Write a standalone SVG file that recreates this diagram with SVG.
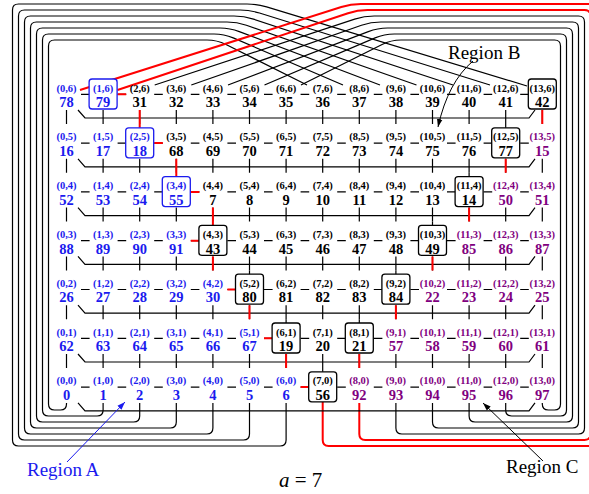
<svg xmlns="http://www.w3.org/2000/svg" width="589" height="494" viewBox="0 0 589 494">
<style>
.l{font:bold 10.5px "Liberation Serif",serif;text-anchor:middle}
.n{font:bold 14.5px "Liberation Serif",serif;text-anchor:middle}
.B{fill:#1a1aee}.P{fill:#800080}.K{fill:#000}
.bx{fill:#fff;stroke:#000;stroke-width:1.3}
.bb{stroke:#1a1aee}
.w{fill:none;stroke:#000;stroke-width:1.2}
.r{fill:none;stroke:#f00;stroke-width:2}
.t{font:19px "Liberation Serif",serif}
</style>
<defs>
<marker id="ak" viewBox="0 0 10 10" refX="10" refY="5" markerWidth="8" markerHeight="8" markerUnits="userSpaceOnUse" orient="auto"><path d="M0,1.5L10,5L0,8.5z" fill="#000"/></marker>
<marker id="ab" viewBox="0 0 10 10" refX="10" refY="5" markerWidth="8" markerHeight="8" markerUnits="userSpaceOnUse" orient="auto"><path d="M0,1.5L10,5L0,8.5z" fill="#1a1aee"/></marker>
</defs>
<g id="connectors">
<!-- outer loops left -->
<path class="w" d="M66.5,403V404Q66.5,410 60.5,410H54.5Q48.5,410 48.5,404V46Q48.5,40 54.5,40H207Q217,40 226,44.5L307,85"/>
<path class="w" d="M103.1,403V410Q103.1,416 97.1,416H48.5Q42.5,416 42.5,410V40Q42.5,34 48.5,34H214Q224,34 233.2,37.9L343,85"/>
<path class="w" d="M139.7,403V416Q139.7,422 133.7,422H42.5Q36.5,422 36.5,416V34Q36.5,28 42.5,28H220Q230,28 239.3,31.6L380,85"/>
<path class="w" d="M176.3,403V422Q176.3,428 170.3,428H36.5Q30.5,428 30.5,422V28Q30.5,22 36.5,22H227Q237,22 246.4,25.3L416.5,85"/>
<path class="w" d="M212.9,403V428Q212.9,434 206.9,434H30.5Q24.5,434 24.5,428V22Q24.5,16 30.5,16H234Q244,16 253.5,19.1L453,85"/>
<path class="w" d="M249.5,403V434Q249.5,440 243.5,440H24.5Q18.5,440 18.5,434V16Q18.5,10 24.5,10H240Q250,10 259.5,13L490,85"/>
<path class="w" d="M286.1,403V440Q286.1,446 280.1,446H18.5Q12.5,446 12.5,440V10Q12.5,4 18.5,4H247Q257,4 266.6,6.9L527,86"/>
<!-- outer loops right -->
<path class="w" d="M542.3,403V404Q542.3,410 548.3,410H554.5Q560.5,410 560.5,404V46Q560.5,40 554.5,40H401Q391,40 382.1,44.5L301,85"/>
<path class="w" d="M505.7,403V410Q505.7,416 511.7,416H560.5Q566.5,416 566.5,410V40Q566.5,34 560.5,34H394.3Q384.3,34 375.1,37.9L264.5,85"/>
<path class="w" d="M469.1,403V416Q469.1,422 475.1,422H566.5Q572.5,422 572.5,416V34Q572.5,28 566.5,28H387.6Q377.6,28 368.3,31.6L228,85"/>
<path class="w" d="M432.5,403V422Q432.5,428 438.5,428H572.5Q578.5,428 578.5,422V28Q578.5,22 572.5,22H380.9Q370.9,22 361.5,25.3L191.3,85"/>
<path class="w" d="M395.9,403V428Q395.9,434 401.9,434H578.5Q584.5,434 584.5,428V22Q584.5,16 578.5,16H374.2Q364.2,16 354.7,19.1L154.7,85"/>
<path class="r" d="M359.3,403V434Q359.3,440 365.3,440H584.5Q590.5,440 590.5,434V16Q590.5,10 584.5,10H367.5Q357.5,10 348,13.2L117.5,90"/>
<path class="r" d="M322.7,402V440Q322.7,446 328.7,446H590.5Q596.5,446 596.5,440V10Q596.5,4 590.5,4H360.8Q350.8,4 341.3,7L80,90"/>
<!-- row wraps -->
<path class="w" d="M78,110L85,118H529L535,110M78,158.8L85,166.8H529L535,158.8M78,207.6L85,215.6H529L535,207.6M78,256.4L85,264.4H529L535,256.4M78,305.2L85,313.2H529L535,305.2M78,354L85,362H529L535,354M78,402.8L85,410.8H529L535,402.8"/>
<!-- horizontal dashes -->
<path class="w" d="M81,94.3h8.6m28,0h8.6m28,0h8.6m28,0h8.6m28,0h8.6m28,0h8.6m28,0h8.6m28,0h8.6m28,0h8.6m28,0h8.6m28,0h8.6m28,0h8.6m28,0h8.6"/>
<path class="w" d="M81,143.1h8.6m28,0h8.6m28,0h8.6m28,0h8.6m28,0h8.6m28,0h8.6m28,0h8.6m28,0h8.6m28,0h8.6m28,0h8.6m28,0h8.6m28,0h8.6m28,0h8.6"/>
<path class="w" d="M81,191.9h8.6m28,0h8.6m28,0h8.6m28,0h8.6m28,0h8.6m28,0h8.6m28,0h8.6m28,0h8.6m28,0h8.6m28,0h8.6m28,0h8.6m28,0h8.6m28,0h8.6"/>
<path class="w" d="M81,240.7h8.6m28,0h8.6m28,0h8.6m28,0h8.6m28,0h8.6m28,0h8.6m28,0h8.6m28,0h8.6m28,0h8.6m28,0h8.6m28,0h8.6m28,0h8.6m28,0h8.6"/>
<path class="w" d="M81,289.5h8.6m28,0h8.6m28,0h8.6m28,0h8.6m28,0h8.6m28,0h8.6m28,0h8.6m28,0h8.6m28,0h8.6m28,0h8.6m28,0h8.6m28,0h8.6m28,0h8.6"/>
<path class="w" d="M81,338.3h8.6m28,0h8.6m28,0h8.6m28,0h8.6m28,0h8.6m28,0h8.6m28,0h8.6m28,0h8.6m28,0h8.6m28,0h8.6m28,0h8.6m28,0h8.6m28,0h8.6"/>
<path class="w" d="M81,387.1h8.6m28,0h8.6m28,0h8.6m28,0h8.6m28,0h8.6m28,0h8.6m28,0h8.6m28,0h8.6m28,0h8.6m28,0h8.6m28,0h8.6m28,0h8.6m28,0h8.6"/>
<!-- vertical links -->
<path class="w" d="M66.5,110v14m36.6,-14v14m36.6,-14v14m36.6,-14v14m36.6,-14v14m36.6,-14v14m36.6,-14v14m36.6,-14v14m36.6,-14v14m36.6,-14v14m36.6,-14v14m36.6,-14v14m36.6,-14v14m36.6,-14v14"/>
<path class="w" d="M66.5,158.8v14m36.6,-14v14m36.6,-14v14m36.6,-14v14m36.6,-14v14m36.6,-14v14m36.6,-14v14m36.6,-14v14m36.6,-14v14m36.6,-14v14m36.6,-14v14m36.6,-14v14m36.6,-14v14m36.6,-14v14"/>
<path class="w" d="M66.5,207.6v14m36.6,-14v14m36.6,-14v14m36.6,-14v14m36.6,-14v14m36.6,-14v14m36.6,-14v14m36.6,-14v14m36.6,-14v14m36.6,-14v14m36.6,-14v14m36.6,-14v14m36.6,-14v14m36.6,-14v14"/>
<path class="w" d="M66.5,256.4v14m36.6,-14v14m36.6,-14v14m36.6,-14v14m36.6,-14v14m36.6,-14v14m36.6,-14v14m36.6,-14v14m36.6,-14v14m36.6,-14v14m36.6,-14v14m36.6,-14v14m36.6,-14v14m36.6,-14v14"/>
<path class="w" d="M66.5,305.2v14m36.6,-14v14m36.6,-14v14m36.6,-14v14m36.6,-14v14m36.6,-14v14m36.6,-14v14m36.6,-14v14m36.6,-14v14m36.6,-14v14m36.6,-14v14m36.6,-14v14m36.6,-14v14m36.6,-14v14"/>
<path class="w" d="M66.5,354v14m36.6,-14v14m36.6,-14v14m36.6,-14v14m36.6,-14v14m36.6,-14v14m36.6,-14v14m36.6,-14v14m36.6,-14v14m36.6,-14v14m36.6,-14v14m36.6,-14v14m36.6,-14v14m36.6,-14v14"/>
<path class="w" d="M505.7,124v4M469.1,172.8v4M432.5,221.6v4M395.9,270.4v4M359.3,319.2v4M322.7,368v4M249.5,270.4v4M286.1,319.2v4"/>
<!-- red path -->
<path class="r" d="M117.6,94.3h8.6M154.2,143.1h8.6M190.8,191.9h8.6M190.8,240.7h8.6M227.4,289.5h8.6M264,338.3h8.6M300.6,387.1h8.6"/>
<path class="r" d="M139.7,110V128M176.3,158.8V176.8M212.9,207.6V225.6M212.9,256.4V270.4M249.5,305.2V319.2M286.1,354V368M359.3,354V368M395.9,305.2V319.2M432.5,256.4V270.4M469.1,207.6V221.6M505.7,158.8V172.8M542.3,110V124"/>
</g>
<!-- row 6 -->
<g id="n0-6" class="B" transform="translate(66.5,0)"><text class="l" y="91.5">(0,6)</text><text class="n" y="107.3">78</text></g>
<g id="n1-6" class="B" transform="translate(103.1,0)"><rect class="bx bb" x="-14" y="79" width="28" height="30" rx="3"/><text class="l" y="91.5">(1,6)</text><text class="n" y="107.3">79</text></g>
<g id="n2-6" class="K" transform="translate(139.7,0)"><text class="l" y="91.5">(2,6)</text><text class="n" y="107.3">31</text></g>
<g id="n3-6" class="K" transform="translate(176.3,0)"><text class="l" y="91.5">(3,6)</text><text class="n" y="107.3">32</text></g>
<g id="n4-6" class="K" transform="translate(212.9,0)"><text class="l" y="91.5">(4,6)</text><text class="n" y="107.3">33</text></g>
<g id="n5-6" class="K" transform="translate(249.5,0)"><text class="l" y="91.5">(5,6)</text><text class="n" y="107.3">34</text></g>
<g id="n6-6" class="K" transform="translate(286.1,0)"><text class="l" y="91.5">(6,6)</text><text class="n" y="107.3">35</text></g>
<g id="n7-6" class="K" transform="translate(322.7,0)"><text class="l" y="91.5">(7,6)</text><text class="n" y="107.3">36</text></g>
<g id="n8-6" class="K" transform="translate(359.3,0)"><text class="l" y="91.5">(8,6)</text><text class="n" y="107.3">37</text></g>
<g id="n9-6" class="K" transform="translate(395.9,0)"><text class="l" y="91.5">(9,6)</text><text class="n" y="107.3">38</text></g>
<g id="n10-6" class="K" transform="translate(432.5,0)"><text class="l" y="91.5">(10,6)</text><text class="n" y="107.3">39</text></g>
<g id="n11-6" class="K" transform="translate(469.1,0)"><text class="l" y="91.5">(11,6)</text><text class="n" y="107.3">40</text></g>
<g id="n12-6" class="K" transform="translate(505.7,0)"><text class="l" y="91.5">(12,6)</text><text class="n" y="107.3">41</text></g>
<g id="n13-6" class="K" transform="translate(542.3,0)"><rect class="bx" x="-14" y="79" width="28" height="30" rx="3"/><text class="l" y="91.5">(13,6)</text><text class="n" y="107.3">42</text></g>
<!-- row 5 -->
<g id="n0-5" class="B" transform="translate(66.5,48.8)"><text class="l" y="91.5">(0,5)</text><text class="n" y="107.3">16</text></g>
<g id="n1-5" class="B" transform="translate(103.1,48.8)"><text class="l" y="91.5">(1,5)</text><text class="n" y="107.3">17</text></g>
<g id="n2-5" class="B" transform="translate(139.7,48.8)"><rect class="bx bb" x="-14" y="79" width="28" height="30" rx="3"/><text class="l" y="91.5">(2,5)</text><text class="n" y="107.3">18</text></g>
<g id="n3-5" class="K" transform="translate(176.3,48.8)"><text class="l" y="91.5">(3,5)</text><text class="n" y="107.3">68</text></g>
<g id="n4-5" class="K" transform="translate(212.9,48.8)"><text class="l" y="91.5">(4,5)</text><text class="n" y="107.3">69</text></g>
<g id="n5-5" class="K" transform="translate(249.5,48.8)"><text class="l" y="91.5">(5,5)</text><text class="n" y="107.3">70</text></g>
<g id="n6-5" class="K" transform="translate(286.1,48.8)"><text class="l" y="91.5">(6,5)</text><text class="n" y="107.3">71</text></g>
<g id="n7-5" class="K" transform="translate(322.7,48.8)"><text class="l" y="91.5">(7,5)</text><text class="n" y="107.3">72</text></g>
<g id="n8-5" class="K" transform="translate(359.3,48.8)"><text class="l" y="91.5">(8,5)</text><text class="n" y="107.3">73</text></g>
<g id="n9-5" class="K" transform="translate(395.9,48.8)"><text class="l" y="91.5">(9,5)</text><text class="n" y="107.3">74</text></g>
<g id="n10-5" class="K" transform="translate(432.5,48.8)"><text class="l" y="91.5">(10,5)</text><text class="n" y="107.3">75</text></g>
<g id="n11-5" class="K" transform="translate(469.1,48.8)"><text class="l" y="91.5">(11,5)</text><text class="n" y="107.3">76</text></g>
<g id="n12-5" class="K" transform="translate(505.7,48.8)"><rect class="bx" x="-14" y="79" width="28" height="30" rx="3"/><text class="l" y="91.5">(12,5)</text><text class="n" y="107.3">77</text></g>
<g id="n13-5" class="P" transform="translate(542.3,48.8)"><text class="l" y="91.5">(13,5)</text><text class="n" y="107.3">15</text></g>
<!-- row 4 -->
<g id="n0-4" class="B" transform="translate(66.5,97.6)"><text class="l" y="91.5">(0,4)</text><text class="n" y="107.3">52</text></g>
<g id="n1-4" class="B" transform="translate(103.1,97.6)"><text class="l" y="91.5">(1,4)</text><text class="n" y="107.3">53</text></g>
<g id="n2-4" class="B" transform="translate(139.7,97.6)"><text class="l" y="91.5">(2,4)</text><text class="n" y="107.3">54</text></g>
<g id="n3-4" class="B" transform="translate(176.3,97.6)"><rect class="bx bb" x="-14" y="79" width="28" height="30" rx="3"/><text class="l" y="91.5">(3,4)</text><text class="n" y="107.3">55</text></g>
<g id="n4-4" class="K" transform="translate(212.9,97.6)"><text class="l" y="91.5">(4,4)</text><text class="n" y="107.3">7</text></g>
<g id="n5-4" class="K" transform="translate(249.5,97.6)"><text class="l" y="91.5">(5,4)</text><text class="n" y="107.3">8</text></g>
<g id="n6-4" class="K" transform="translate(286.1,97.6)"><text class="l" y="91.5">(6,4)</text><text class="n" y="107.3">9</text></g>
<g id="n7-4" class="K" transform="translate(322.7,97.6)"><text class="l" y="91.5">(7,4)</text><text class="n" y="107.3">10</text></g>
<g id="n8-4" class="K" transform="translate(359.3,97.6)"><text class="l" y="91.5">(8,4)</text><text class="n" y="107.3">11</text></g>
<g id="n9-4" class="K" transform="translate(395.9,97.6)"><text class="l" y="91.5">(9,4)</text><text class="n" y="107.3">12</text></g>
<g id="n10-4" class="K" transform="translate(432.5,97.6)"><text class="l" y="91.5">(10,4)</text><text class="n" y="107.3">13</text></g>
<g id="n11-4" class="K" transform="translate(469.1,97.6)"><rect class="bx" x="-14" y="79" width="28" height="30" rx="3"/><text class="l" y="91.5">(11,4)</text><text class="n" y="107.3">14</text></g>
<g id="n12-4" class="P" transform="translate(505.7,97.6)"><text class="l" y="91.5">(12,4)</text><text class="n" y="107.3">50</text></g>
<g id="n13-4" class="P" transform="translate(542.3,97.6)"><text class="l" y="91.5">(13,4)</text><text class="n" y="107.3">51</text></g>
<!-- row 3 -->
<g id="n0-3" class="B" transform="translate(66.5,146.4)"><text class="l" y="91.5">(0,3)</text><text class="n" y="107.3">88</text></g>
<g id="n1-3" class="B" transform="translate(103.1,146.4)"><text class="l" y="91.5">(1,3)</text><text class="n" y="107.3">89</text></g>
<g id="n2-3" class="B" transform="translate(139.7,146.4)"><text class="l" y="91.5">(2,3)</text><text class="n" y="107.3">90</text></g>
<g id="n3-3" class="B" transform="translate(176.3,146.4)"><text class="l" y="91.5">(3,3)</text><text class="n" y="107.3">91</text></g>
<g id="n4-3" class="K" transform="translate(212.9,146.4)"><rect class="bx" x="-14" y="79" width="28" height="30" rx="3"/><text class="l" y="91.5">(4,3)</text><text class="n" y="107.3">43</text></g>
<g id="n5-3" class="K" transform="translate(249.5,146.4)"><text class="l" y="91.5">(5,3)</text><text class="n" y="107.3">44</text></g>
<g id="n6-3" class="K" transform="translate(286.1,146.4)"><text class="l" y="91.5">(6,3)</text><text class="n" y="107.3">45</text></g>
<g id="n7-3" class="K" transform="translate(322.7,146.4)"><text class="l" y="91.5">(7,3)</text><text class="n" y="107.3">46</text></g>
<g id="n8-3" class="K" transform="translate(359.3,146.4)"><text class="l" y="91.5">(8,3)</text><text class="n" y="107.3">47</text></g>
<g id="n9-3" class="K" transform="translate(395.9,146.4)"><text class="l" y="91.5">(9,3)</text><text class="n" y="107.3">48</text></g>
<g id="n10-3" class="K" transform="translate(432.5,146.4)"><rect class="bx" x="-14" y="79" width="28" height="30" rx="3"/><text class="l" y="91.5">(10,3)</text><text class="n" y="107.3">49</text></g>
<g id="n11-3" class="P" transform="translate(469.1,146.4)"><text class="l" y="91.5">(11,3)</text><text class="n" y="107.3">85</text></g>
<g id="n12-3" class="P" transform="translate(505.7,146.4)"><text class="l" y="91.5">(12,3)</text><text class="n" y="107.3">86</text></g>
<g id="n13-3" class="P" transform="translate(542.3,146.4)"><text class="l" y="91.5">(13,3)</text><text class="n" y="107.3">87</text></g>
<!-- row 2 -->
<g id="n0-2" class="B" transform="translate(66.5,195.2)"><text class="l" y="91.5">(0,2)</text><text class="n" y="107.3">26</text></g>
<g id="n1-2" class="B" transform="translate(103.1,195.2)"><text class="l" y="91.5">(1,2)</text><text class="n" y="107.3">27</text></g>
<g id="n2-2" class="B" transform="translate(139.7,195.2)"><text class="l" y="91.5">(2,2)</text><text class="n" y="107.3">28</text></g>
<g id="n3-2" class="B" transform="translate(176.3,195.2)"><text class="l" y="91.5">(3,2)</text><text class="n" y="107.3">29</text></g>
<g id="n4-2" class="B" transform="translate(212.9,195.2)"><text class="l" y="91.5">(4,2)</text><text class="n" y="107.3">30</text></g>
<g id="n5-2" class="K" transform="translate(249.5,195.2)"><rect class="bx" x="-14" y="79" width="28" height="30" rx="3"/><text class="l" y="91.5">(5,2)</text><text class="n" y="107.3">80</text></g>
<g id="n6-2" class="K" transform="translate(286.1,195.2)"><text class="l" y="91.5">(6,2)</text><text class="n" y="107.3">81</text></g>
<g id="n7-2" class="K" transform="translate(322.7,195.2)"><text class="l" y="91.5">(7,2)</text><text class="n" y="107.3">82</text></g>
<g id="n8-2" class="K" transform="translate(359.3,195.2)"><text class="l" y="91.5">(8,2)</text><text class="n" y="107.3">83</text></g>
<g id="n9-2" class="K" transform="translate(395.9,195.2)"><rect class="bx" x="-14" y="79" width="28" height="30" rx="3"/><text class="l" y="91.5">(9,2)</text><text class="n" y="107.3">84</text></g>
<g id="n10-2" class="P" transform="translate(432.5,195.2)"><text class="l" y="91.5">(10,2)</text><text class="n" y="107.3">22</text></g>
<g id="n11-2" class="P" transform="translate(469.1,195.2)"><text class="l" y="91.5">(11,2)</text><text class="n" y="107.3">23</text></g>
<g id="n12-2" class="P" transform="translate(505.7,195.2)"><text class="l" y="91.5">(12,2)</text><text class="n" y="107.3">24</text></g>
<g id="n13-2" class="P" transform="translate(542.3,195.2)"><text class="l" y="91.5">(13,2)</text><text class="n" y="107.3">25</text></g>
<!-- row 1 -->
<g id="n0-1" class="B" transform="translate(66.5,244)"><text class="l" y="91.5">(0,1)</text><text class="n" y="107.3">62</text></g>
<g id="n1-1" class="B" transform="translate(103.1,244)"><text class="l" y="91.5">(1,1)</text><text class="n" y="107.3">63</text></g>
<g id="n2-1" class="B" transform="translate(139.7,244)"><text class="l" y="91.5">(2,1)</text><text class="n" y="107.3">64</text></g>
<g id="n3-1" class="B" transform="translate(176.3,244)"><text class="l" y="91.5">(3,1)</text><text class="n" y="107.3">65</text></g>
<g id="n4-1" class="B" transform="translate(212.9,244)"><text class="l" y="91.5">(4,1)</text><text class="n" y="107.3">66</text></g>
<g id="n5-1" class="B" transform="translate(249.5,244)"><text class="l" y="91.5">(5,1)</text><text class="n" y="107.3">67</text></g>
<g id="n6-1" class="K" transform="translate(286.1,244)"><rect class="bx" x="-14" y="79" width="28" height="30" rx="3"/><text class="l" y="91.5">(6,1)</text><text class="n" y="107.3">19</text></g>
<g id="n7-1" class="K" transform="translate(322.7,244)"><text class="l" y="91.5">(7,1)</text><text class="n" y="107.3">20</text></g>
<g id="n8-1" class="K" transform="translate(359.3,244)"><rect class="bx" x="-14" y="79" width="28" height="30" rx="3"/><text class="l" y="91.5">(8,1)</text><text class="n" y="107.3">21</text></g>
<g id="n9-1" class="P" transform="translate(395.9,244)"><text class="l" y="91.5">(9,1)</text><text class="n" y="107.3">57</text></g>
<g id="n10-1" class="P" transform="translate(432.5,244)"><text class="l" y="91.5">(10,1)</text><text class="n" y="107.3">58</text></g>
<g id="n11-1" class="P" transform="translate(469.1,244)"><text class="l" y="91.5">(11,1)</text><text class="n" y="107.3">59</text></g>
<g id="n12-1" class="P" transform="translate(505.7,244)"><text class="l" y="91.5">(12,1)</text><text class="n" y="107.3">60</text></g>
<g id="n13-1" class="P" transform="translate(542.3,244)"><text class="l" y="91.5">(13,1)</text><text class="n" y="107.3">61</text></g>
<!-- row 0 -->
<g id="n0-0" class="B" transform="translate(66.5,292.8)"><text class="l" y="91.5">(0,0)</text><text class="n" y="107.3">0</text></g>
<g id="n1-0" class="B" transform="translate(103.1,292.8)"><text class="l" y="91.5">(1,0)</text><text class="n" y="107.3">1</text></g>
<g id="n2-0" class="B" transform="translate(139.7,292.8)"><text class="l" y="91.5">(2,0)</text><text class="n" y="107.3">2</text></g>
<g id="n3-0" class="B" transform="translate(176.3,292.8)"><text class="l" y="91.5">(3,0)</text><text class="n" y="107.3">3</text></g>
<g id="n4-0" class="B" transform="translate(212.9,292.8)"><text class="l" y="91.5">(4,0)</text><text class="n" y="107.3">4</text></g>
<g id="n5-0" class="B" transform="translate(249.5,292.8)"><text class="l" y="91.5">(5,0)</text><text class="n" y="107.3">5</text></g>
<g id="n6-0" class="B" transform="translate(286.1,292.8)"><text class="l" y="91.5">(6,0)</text><text class="n" y="107.3">6</text></g>
<g id="n7-0" class="K" transform="translate(322.7,292.8)"><rect class="bx" x="-14" y="79" width="28" height="30" rx="3"/><text class="l" y="91.5">(7,0)</text><text class="n" y="107.3">56</text></g>
<g id="n8-0" class="P" transform="translate(359.3,292.8)"><text class="l" y="91.5">(8,0)</text><text class="n" y="107.3">92</text></g>
<g id="n9-0" class="P" transform="translate(395.9,292.8)"><text class="l" y="91.5">(9,0)</text><text class="n" y="107.3">93</text></g>
<g id="n10-0" class="P" transform="translate(432.5,292.8)"><text class="l" y="91.5">(10,0)</text><text class="n" y="107.3">94</text></g>
<g id="n11-0" class="P" transform="translate(469.1,292.8)"><text class="l" y="91.5">(11,0)</text><text class="n" y="107.3">95</text></g>
<g id="n12-0" class="P" transform="translate(505.7,292.8)"><text class="l" y="91.5">(12,0)</text><text class="n" y="107.3">96</text></g>
<g id="n13-0" class="P" transform="translate(542.3,292.8)"><text class="l" y="91.5">(13,0)</text><text class="n" y="107.3">97</text></g>
<!-- annotations -->
<g id="regionA"><path d="M67,462L125,402" fill="none" stroke="#1a1aee" stroke-width="1" marker-end="url(#ab)"/><text class="t" x="27" y="476" fill="#1a1aee">Region A</text></g>
<g id="regionB"><path d="M473,61Q448,82 438,127" fill="none" stroke="#000" stroke-width="1" marker-end="url(#ak)"/><text class="t" x="448" y="59" fill="#000">Region B</text></g>
<g id="regionC"><path d="M543,461L483,403" fill="none" stroke="#000" stroke-width="1" marker-end="url(#ak)"/><text class="t" x="506" y="473" fill="#000">Region C</text></g>
<text x="279" y="487" font-family="Liberation Serif, serif" font-size="21"><tspan font-style="italic">a</tspan> = 7</text>
</svg>
